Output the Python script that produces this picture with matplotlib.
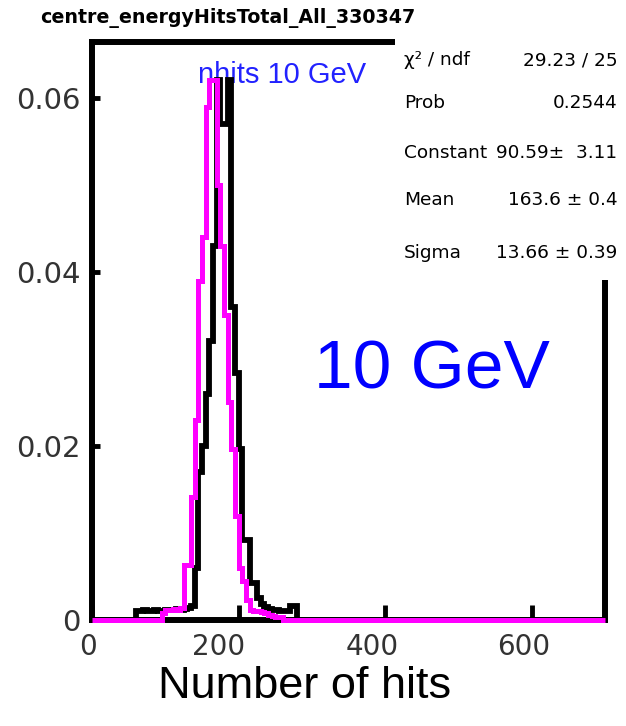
import numpy as np
import matplotlib
matplotlib.use('Agg')
import matplotlib.pyplot as plt
from matplotlib.patches import Rectangle
from matplotlib.transforms import ScaledTranslation

# histogram binning (number of hits)
bin_width = 5
x_max = 700

# black histogram, first bin starts at 60
black_start = 60
black_vals = [0.0010, 0.0010, 0.0011, 0.0010, 0.0010, 0.0011, 0.0010, 0.0010,
              0.0011, 0.0012, 0.0012, 0.0013, 0.0012, 0.0013, 0.0014, 0.0016,
              0.0060, 0.0170, 0.0200, 0.0260, 0.0320, 0.0430, 0.0620, 0.0570,
              0.0570, 0.0620, 0.0360, 0.0284, 0.0196, 0.0092, 0.0092, 0.0043,
              0.0043, 0.0025, 0.0018, 0.0015, 0.0013, 0.0012, 0.0011, 0.0010,
              0.0010, 0.0010, 0.0016, 0.0016]

# magenta histogram, first bin starts at 95
mag_start = 95
mag_vals = [0.0008, 0.0012, 0.0012, 0.0013, 0.0012, 0.0014, 0.0063, 0.0063,
            0.0141, 0.0230, 0.0390, 0.0440, 0.0590, 0.0620, 0.0620, 0.0500,
            0.0430, 0.0350, 0.0250, 0.0196, 0.0120, 0.0060, 0.0045, 0.0023,
            0.0012, 0.0010, 0.0010, 0.0009, 0.0008, 0.0006, 0.0005, 0.0004,
            0.0003]

xticks = [0, 200, 400, 600]
yticks = [0, 0.02, 0.04, 0.06]
ytick_labels = ['0', '0.02', '0.04', '0.06']

title = 'centre_energyHitsTotal_All_330347'
stat_names = ['\u03c7\u00b2 / ndf', 'Prob', 'Constant', 'Mean', 'Sigma']
stat_values = ['29.23 / 25', '0.2544', '90.59\u00b1  3.11', '163.6 \u00b1 0.4', '13.66 \u00b1 0.39']

# magenta spans the whole axis range (zero bins lie on the baseline)
edges = np.arange(0, x_max + bin_width, bin_width)
mag_h = np.zeros(len(edges) - 1)
i0 = mag_start // bin_width
mag_h[i0:i0 + len(mag_vals)] = mag_vals

black_edges = black_start + bin_width * np.arange(len(black_vals) + 1)

fig = plt.figure(figsize=(6.26, 7.26), dpi=100)
ax = fig.add_axes([0.147, 0.146, 0.8195, 0.796])

ax.stairs(black_vals, black_edges, color='black', lw=4.2, zorder=3, clip_on=False)
ax.stairs(mag_h, edges, color='#ff00ff', lw=3.6, zorder=4, clip_on=False)

ax.set_xlim(0, x_max)
ax.set_ylim(0, 0.0664)

for s in ax.spines.values():
    s.set_linewidth(4.3)
    s.set_color('black')

ax.set_xticks(xticks)
ax.set_xticklabels([str(v) for v in xticks])
ax.set_yticks(yticks)
ax.set_yticklabels(ytick_labels)
ax.tick_params(axis='x', direction='in', length=11, width=3.5, pad=9,
               labelsize=20, labelcolor='#333333')
ax.tick_params(axis='y', direction='in', length=6, width=3.5, pad=8,
               labelsize=21, labelcolor='#333333')

# the x labels sit a little left of their ticks in the original
for lbl, dx in zip(ax.get_xticklabels(), [-4, -20, -13, -8]):
    lbl.set_transform(lbl.get_transform() + ScaledTranslation(dx / 100, 0, fig.dpi_scale_trans))

# title and labels
fig.text(0.064, 0.975, title, ha='left', va='center', fontsize=13.7,
         fontweight='bold', family='DejaVu Sans')
ax.text(0.450, 0.897, 'nhits 10 GeV', transform=fig.transFigure, ha='center',
        va='center', fontsize=21, color='#2222ff', family='Liberation Sans', zorder=2)
fig.text(0.69, 0.49, '10 GeV', ha='center', va='center', fontsize=50,
         color='#0000ff', family='Liberation Sans')
fig.text(0.487, 0.039, 'Number of hits', ha='center', va='baseline', fontsize=32.5,
         family='Liberation Sans')

# stats box
fig.add_artist(Rectangle((0.631, 0.614), 0.369, 0.339, transform=fig.transFigure,
                         facecolor='white', edgecolor='none', zorder=5))
row_y = [0.917, 0.858, 0.789, 0.725, 0.651]
for name, val, y in zip(stat_names, stat_values, row_y):
    fig.text(0.645, y, name, ha='left', va='center', fontsize=13.3, zorder=6)
    fig.text(0.986, y, val, ha='right', va='center', fontsize=13.3, zorder=6)

fig.savefig('out.png', dpi=100)
